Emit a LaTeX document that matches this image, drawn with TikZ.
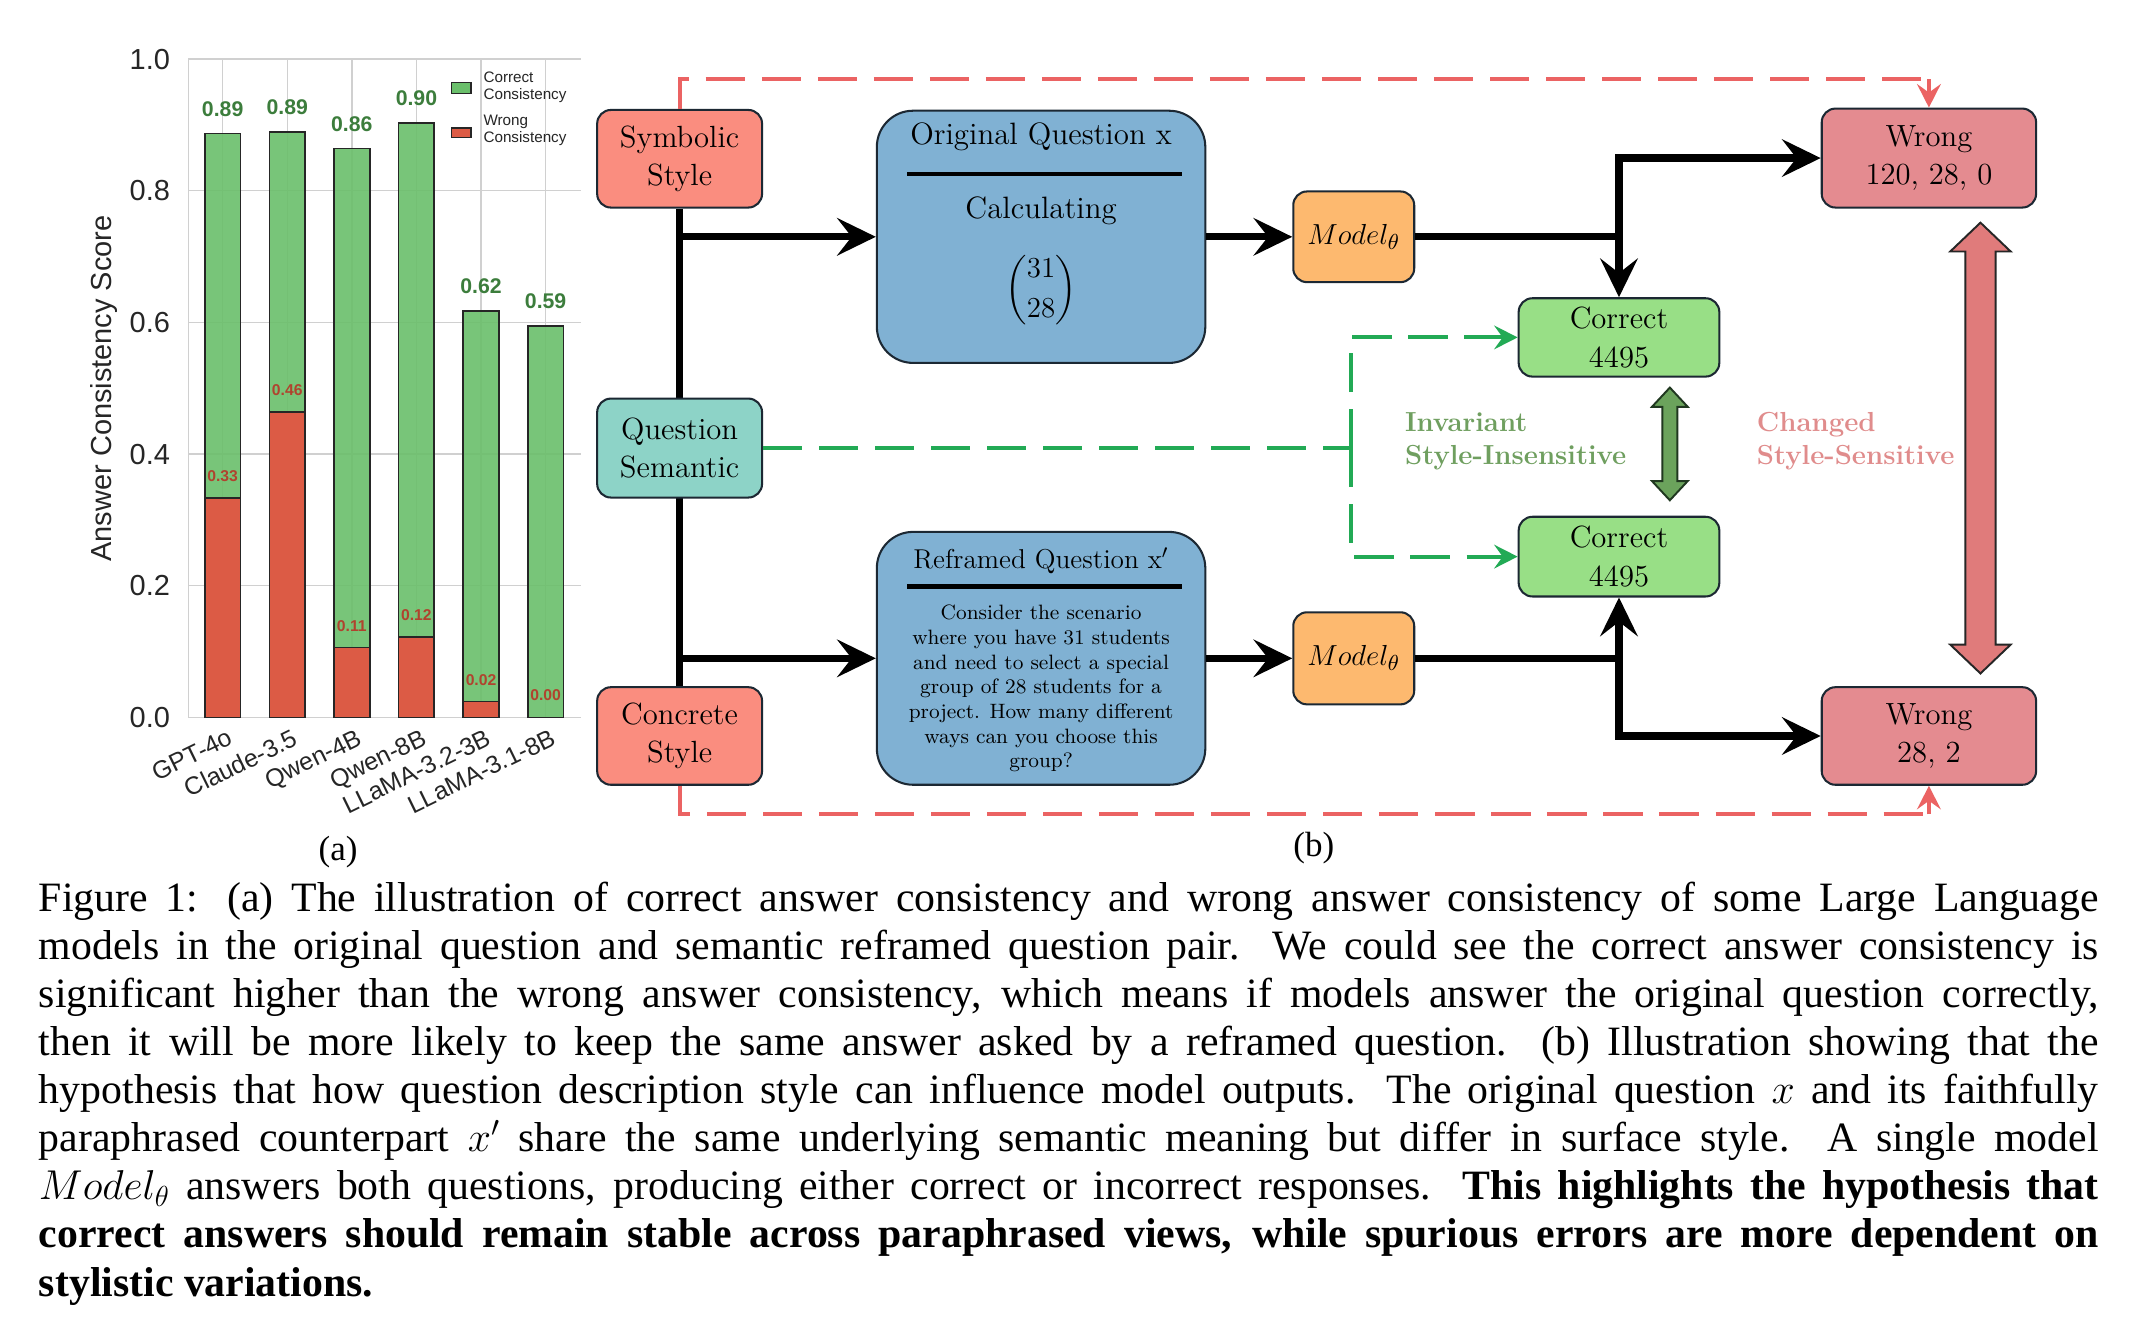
\documentclass[tikz,border=0pt]{standalone}
\usepackage{amsmath}
\usepackage{graphicx}
\usepackage{fontspec}
\usetikzlibrary{arrows.meta,calc}
\newfontfamily\capfont{Liberation Serif}
\newfontfamily\chartfont{Liberation Sans}
\definecolor{cSym}{HTML}{FA8D7F}
\definecolor{cQS}{HTML}{8DD3C7}
\definecolor{cBlue}{HTML}{80B1D3}
\definecolor{cMod}{HTML}{FDB96F}
\definecolor{cCor}{HTML}{98DF86}
\definecolor{cWr}{HTML}{E48B90}
\definecolor{cRd}{HTML}{EB6363}
\definecolor{cGd}{HTML}{22AA55}
\definecolor{cFatG}{HTML}{6BA35C}
\definecolor{cFatGd}{HTML}{203820}
\definecolor{cFatR}{HTML}{E07B7B}
\definecolor{cInv}{HTML}{6F9F5F}
\definecolor{cChg}{HTML}{E08C8C}
\definecolor{boxline}{HTML}{1C2833}
\definecolor{barG}{HTML}{6ABF6B}
\definecolor{barR}{HTML}{DC5B45}
\definecolor{glabc}{HTML}{3C7D3C}
\definecolor{rlabc}{HTML}{B0432E}
\definecolor{gridc}{HTML}{D0D0D0}
\def\U{0.02cm}
\newcommand\capln[1]{\makebox[853pt][s]{#1}}
\begin{document}
\begin{tikzpicture}[x=0.02cm,y=-0.02cm,
  gridline/.style={draw=gridc,line width=0.6pt},
  ticklab/.style={font=\chartfont\fontsize{12}{14}\selectfont,text=black!85,inner sep=0pt},
  xlab/.style={font=\chartfont\fontsize{10.3}{12}\selectfont,rotate=26,anchor=north east,inner sep=1pt,text=black!85},
  barGs/.style={fill=barG,fill opacity=0.9,draw=black!85,line width=0.7pt},
  barRs/.style={fill=barR,draw=black!85,line width=0.7pt},
  glab/.style={font=\chartfont\bfseries\fontsize{8.8}{10}\selectfont,text=glabc,inner sep=0pt},
  rlab/.style={font=\chartfont\bfseries\fontsize{6.5}{8}\selectfont,text=rlabc,inner sep=0pt},
  leglab/.style={font=\chartfont\fontsize{6.3}{7.2}\selectfont,text=black!85,align=left,anchor=west,inner sep=0pt},
  box/.style={draw=boxline,line width=0.85pt,rounded corners=5.7pt,inner sep=0pt,align=center,font=\fontsize{12.7}{15.9}\selectfont},
  bigbox/.style={draw=boxline,line width=0.85pt,rounded corners=15pt,fill=cBlue,inner sep=0pt,minimum width=239*\U},
  blk/.style={line width=3pt,-{Stealth[length=16pt,width=15.5pt,inset=6pt]}},
  blkline/.style={line width=3pt},
  gdash/.style={draw=cGd,line width=1.65pt,dash pattern=on 16.2pt off 7pt},
  rdash/.style={draw=cRd,line width=1.65pt,dash pattern=on 16.2pt off 7pt},
  smalltip/.style={-{Stealth[length=9.7pt,width=9.8pt,inset=3.5pt]}},
  fatG/.style={fill=cFatG,draw=cFatGd,line width=0.8pt,line join=miter},
  fatR/.style={fill=cFatR,draw=black!85,line width=0.8pt,line join=miter},
  sidetext/.style={font=\bfseries\fontsize{11.4}{13.7}\selectfont,align=left,anchor=west,inner sep=0pt},
  capn/.style={anchor=base west,inner sep=0pt,font=\capfont\fontsize{17.3}{20}\selectfont},
  sublab/.style={font=\capfont\fontsize{14.5}{17}\selectfont,inner sep=0pt}
]
\fill[white] (0,0) rectangle (1560,975);
\useasboundingbox (0,0) rectangle (1560,975);

% ---------------- chart (a) ----------------
\draw[gridline] (137,43) -- (137,522);
\foreach \v/\l [count=\i] in {0/0.0,0.2/0.2,0.4/0.4,0.6/0.6,0.8/0.8,1/1.0} {
  \draw[gridline] (137,{522-479*\v}) -- (423,{522-479*\v});
  \node[ticklab,anchor=east] (yt\i) at (124,{522-479*\v}) {\l};
}
\foreach \x in {162,209,256,303,350,397} \draw[gridline] (\x,43) -- (\x,522);
\foreach \x/\cv/\wv/\cl/\wl/\nm [count=\i] in {
  162/0.887/0.333/0.89/0.33/GPT-4o,
  209/0.889/0.464/0.89/0.46/Claude-3.5,
  256/0.864/0.106/0.86/0.11/Qwen-4B,
  303/0.9025/0.1226/0.90/0.12/Qwen-8B,
  350/0.617/0.024/0.62/0.02/LLaMA-3.2-3B,
  397/0.595/0/0.59/0.00/LLaMA-3.1-8B} {
  \draw[barGs] (\x-13,522) rectangle (\x+13,{522-479*\cv});
  \draw[barRs] (\x-13,522) rectangle (\x+13,{522-479*\wv});
  \node[glab] (gl\i) at (\x,{522-479*\cv-18}) {\cl};
  \node[rlab] (rl\i) at (\x,{522-479*\wv-16}) {\wl};
  \node[xlab] (xl\i) at (\x+4,527) {\nm};
}
\node[font=\chartfont\fontsize{12}{14}\selectfont,text=black!85,rotate=90,inner sep=0pt] (ylab) at (75.7,282.6) {Answer Consistency Score};
% legend
\draw[fill=barG,draw=black!85,line width=0.6pt] (328.6,60) rectangle (342.6,68);
\draw[fill=barR,draw=black!85,line width=0.6pt] (328.6,93) rectangle (342.6,100);
\node[leglab] (lg1) at (351.5,63.3) {Correct\\Consistency};
\node[leglab] (lg2) at (351.5,95) {Wrong\\Consistency};
\node[sublab] (suba) at (246,620) {(a)};

% ---------------- diagram (b) ----------------
\node[box,fill=cSym,minimum width=120*\U,minimum height=71*\U] (sym) at (494.5,115.5) {Symbolic\\Style};
\node[box,fill=cSym,minimum width=120*\U,minimum height=71*\U] (con) at (494.5,535.5) {Concrete\\Style};
\draw[blkline] (sym.south) -- (con.north);
\node[box,fill=cQS,minimum width=120*\U,minimum height=72*\U] (qs) at (494.5,326) {Question\\Semantic};

\node[bigbox,minimum height=183.5*\U] (orig) at (757.5,172.3) {};
\node[font=\fontsize{12.8}{15}\selectfont,inner sep=0pt] (origT) at (757.5,99.5) {Original Question x};
\draw[line width=2pt] (660,126.6) -- (860,126.6);
\node[font=\fontsize{12.8}{15}\selectfont,inner sep=0pt] (origC) at (757.5,153.5) {Calculating};
\node[font=\fontsize{12.8}{15}\selectfont,inner sep=0pt] (origB) at (757.5,211) {$\dbinom{31}{28}$};

\node[bigbox,minimum height=184*\U] (refr) at (757.5,479) {};
\node[font=\fontsize{11.3}{13}\selectfont,inner sep=0pt] (refrT) at (757.5,408) {Reframed Question x$'$};
\draw[line width=2pt] (660,426.5) -- (860,426.5);
\node[font=\fontsize{8.6}{10.24}\selectfont,align=center,inner sep=0pt] (refrB) at (757.5,501) {Consider the scenario\\where you have 31 students\\and need to select a special\\group of 28 students for a\\project. How many different\\ways can you choose this\\group?};

\node[box,fill=cMod,minimum width=88*\U,minimum height=66*\U] (mt) at (985,172.3) {$Model_\theta$};
\node[box,fill=cMod,minimum width=88*\U,minimum height=67*\U] (mb) at (985,479) {$Model_\theta$};
\node[box,fill=cCor,minimum width=146*\U,minimum height=57*\U] (ct) at (1178,245.5) {Correct\\4495};
\node[box,fill=cCor,minimum width=146*\U,minimum height=58*\U] (cb) at (1178,405) {Correct\\4495};
\node[box,fill=cWr,minimum width=156*\U,minimum height=72*\U] (wt) at (1403.5,115) {Wrong\\120, 28, 0};
\node[box,fill=cWr,minimum width=156*\U,minimum height=71*\U] (wb) at (1403.5,535.5) {Wrong\\28, 2};

% black connectors
\coordinate (j1) at (494.5,172.3);
\coordinate (j2) at (494.5,479);
\draw[blk] (j1) -- (orig.west);
\draw[blk] (j2) -- (refr.west);
\draw[blk] (orig.east) -- (mt.west);
\draw[blk] (refr.east) -- (mb.west);
\draw[blk] (mt.east) -| (ct.north);
\coordinate (s1) at (1178,172.3);
\draw[blk] (s1) |- (wt.west);
\draw[blk] (mb.east) -| (cb.south);
\coordinate (s2) at (1178,479);
\draw[blk] (s2) |- (wb.west);

% green dashed
\coordinate (gj) at (983,326);
\draw[gdash] (qs.east) -- (gj);
\draw[gdash,smalltip] (gj) |- (ct.west);
\draw[gdash,smalltip] (gj) |- (cb.west);

% red dashed
\coordinate (rtop) at (1403.5,57.5);
\coordinate (rbot) at (1403.5,592.5);
\draw[rdash] (sym.north) |- (rtop);
\draw[rdash,smalltip] (rtop) -- (wt.north);
\draw[rdash] (con.south) |- (rbot);
\draw[rdash,smalltip] (rbot) -- (wb.south);

% fat double arrows
\draw[fatG] (1215,282) -- (1228,296) -- (1220.5,296) -- (1220.5,350) -- (1228,350) -- (1215,364) -- (1202,350) -- (1209.5,350) -- (1209.5,296) -- (1202,296) -- cycle;
\draw[fatR] (1441,162) -- (1463,183) -- (1452,183) -- (1452,469) -- (1463,469) -- (1441,490) -- (1419,469) -- (1430,469) -- (1430,183) -- (1419,183) -- cycle;

\node[sidetext,text=cInv] (inv) at (1022,321) {Invariant\\Style-Insensitive};
\node[sidetext,text=cChg] (chg) at (1278,321) {Changed\\Style-Sensitive};
\node[sublab] (subb) at (956,617) {(b)};

% ---------------- caption ----------------
\node[capn] (c1) at (28,663) {\capln{Figure 1: (a) The illustration of correct answer consistency and wrong answer consistency of some Large Language}};
\node[capn] (c2) at (28,698) {\capln{models in the original question and semantic reframed question pair. We could see the correct answer consistency is}};
\node[capn] (c3) at (28,733) {\capln{significant higher than the wrong answer consistency, which means if models answer the original question correctly,}};
\node[capn] (c4) at (28,768) {\capln{then it will be more likely to keep the same answer asked by a reframed question. (b) Illustration showing that the}};
\node[capn] (c5) at (28,803) {\capln{hypothesis that how question description style can influence model outputs. The original question $x$ and its faithfully}};
\node[capn] (c6) at (28,838) {\capln{paraphrased counterpart $x'$ share the same underlying semantic meaning but differ in surface style. A single model}};
\node[capn] (c7) at (28,873) {\capln{$Model_\theta$ answers both questions, producing either correct or incorrect responses. \textbf{This highlights the hypothesis that}}};
\node[capn] (c8) at (28,908) {\capln{\textbf{correct answers should remain stable across paraphrased views, while spurious errors are more dependent on}}};
\node[capn] (c9) at (28,943) {\textbf{stylistic variations.}};
\end{tikzpicture}
\end{document}
